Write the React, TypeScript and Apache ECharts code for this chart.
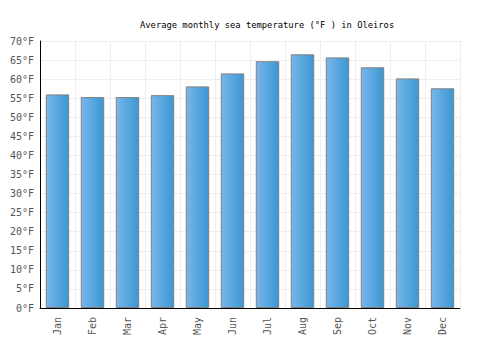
import React, { useEffect, useRef } from "react";
import * as echarts from "echarts";

const months = ["Jan", "Feb", "Mar", "Apr", "May", "Jun", "Jul", "Aug", "Sep", "Oct", "Nov", "Dec"];
const seaTempF = [56.0, 55.3, 55.3, 55.8, 58.1, 61.5, 64.7, 66.5, 65.7, 63.1, 60.2, 57.6];
const titleText = "Average monthly sea temperature (°F ) in Oleiros";

const FONT = "DejaVu Sans Mono";

export default function App() {
  const ref = useRef<HTMLDivElement>(null);
  useEffect(() => {
    if (!ref.current) return;
    const chart = echarts.init(ref.current, null, { renderer: "svg" });
    chart.setOption({
      animation: false,
      backgroundColor: "#ffffff",
      title: {
        text: titleText,
        left: 135,
        top: 15,
        textStyle: { fontFamily: FONT, fontSize: 8.8, fontWeight: "normal", color: "#000" },
      },
      grid: { left: 40, right: 40, top: 41, bottom: 42, containLabel: false },
      xAxis: {
        type: "category",
        data: months,
        axisLine: { lineStyle: { color: "#000", width: 1 } },
        axisTick: { show: false },
        axisLabel: { rotate: 90, color: "#555", fontFamily: FONT, fontSize: 10, margin: 9 },
        splitLine: { show: true, lineStyle: { color: "#eeeeee" } },
      },
      yAxis: {
        type: "value",
        min: 0,
        max: 70,
        interval: 5,
        axisLine: { show: true, lineStyle: { color: "#000", width: 1 } },
        axisTick: { show: false },
        axisLabel: { formatter: "{value}°F", color: "#555", fontFamily: FONT, fontSize: 10, margin: 6 },
        splitLine: { lineStyle: { color: "#eeeeee" } },
      },
      series: [
        {
          type: "bar",
          data: seaTempF,
          barWidth: "67%",
          itemStyle: {
            color: new echarts.graphic.LinearGradient(0, 0, 1, 0, [
              { offset: 0, color: "#78b6ea" },
              { offset: 1, color: "#3a97d3" },
            ]),
            borderColor: "#808080",
            borderWidth: 1,
          },
        },
      ],
    });
    return () => chart.dispose();
  }, []);
  return <div ref={ref} style={{ width: 500, height: 350, position: "absolute", left: 0, top: 0 }} />;
}
